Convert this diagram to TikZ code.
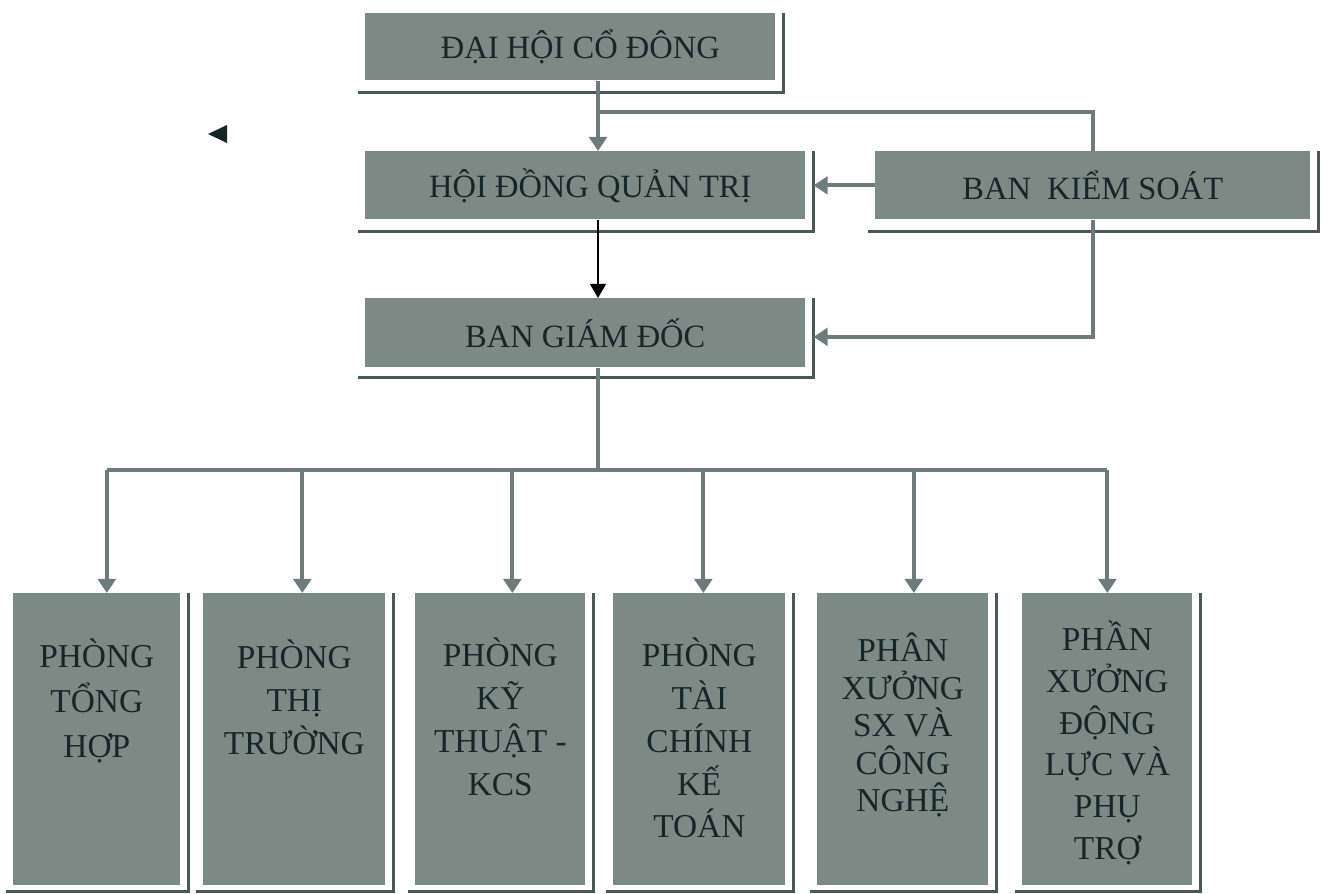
\documentclass[tikz,border=0pt]{standalone}
\usepackage{fontspec}
\setmainfont{Liberation Serif}
\usetikzlibrary{arrows.meta,positioning,calc}

\definecolor{boxgrey}{RGB}{124,138,134}
\definecolor{shadegrey}{RGB}{74,88,86}
\definecolor{linegrey}{RGB}{110,124,121}
\definecolor{inkgreen}{RGB}{22,38,34}

\tikzset{
  headbox/.style={fill=boxgrey,anchor=north west,inner sep=0pt,text=inkgreen,
    font=\fontsize{18.5}{22}\selectfont},
  deptbox/.style={fill=boxgrey,anchor=north west,inner sep=0pt,minimum height=5.84cm},
  depttext/.style={align=center,inner sep=0pt,text=inkgreen,font=\fontsize{19}{24.4}\selectfont},
  shadeline/.style={draw=shadegrey,line width=1.6pt},
  conn/.style={draw=linegrey,line width=2.3pt},
  blackarrow/.style={draw=black,line width=1pt,-{Triangle[length=8pt,width=9pt]}}
}

% drop shadow lines under and right of a box
\newcommand{\boxshade}[2]{%
  \draw[shadeline] ($(#1.south west)+(-7,#2)$) -| ($(#1.north east)+(8,0)$);}

\begin{document}
\begin{tikzpicture}[x=0.02cm,y=-0.02cm,>={Triangle[length=8pt,width=10pt]}]

  \useasboundingbox (0,0) rectangle (1331,893);

  % -- TOP LEVEL -----------------------------------------------------
  \node[headbox,minimum width=8.2cm,minimum height=1.34cm] (dh) at (365,13) {\hspace{0.4cm}ĐẠI HỘI CỔ ĐÔNG};
  \node[headbox,minimum width=8.8cm,minimum height=1.36cm] (hd) at (365,151) {\hspace{0.2cm}HỘI ĐỒNG QUẢN TRỊ};
  \node[headbox,minimum width=8.7cm,minimum height=1.36cm] (bks) at (875,151) {BAN\ \ KIỂM SOÁT};
  \node[headbox,minimum width=8.8cm,minimum height=1.38cm] (bgd) at (365,298) {BAN GIÁM ĐỐC};

  \boxshade{dh}{12}
  \boxshade{hd}{12}
  \boxshade{bks}{12}
  \boxshade{bgd}{10}

  % stray mark on the left
  \fill[inkgreen] (208,134) -- (227,125) -- (227,143) -- cycle;

  % -- DEPARTMENTS ---------------------------------------------------
  \node[deptbox,minimum width=3.34cm] (p1) at (13,593) {};
  \node[deptbox,minimum width=3.64cm] (p2) at (203,593) {};
  \node[deptbox,minimum width=3.40cm] (p3) at (415,593) {};
  \node[deptbox,minimum width=3.44cm] (p4) at (613,593) {};
  \node[deptbox,minimum width=3.42cm] (p5) at (817,593) {};
  \node[deptbox,minimum width=3.40cm] (p6) at (1022,593) {};

  \boxshade{p1}{6}
  \boxshade{p2}{6}
  \boxshade{p3}{6}
  \boxshade{p4}{6}
  \boxshade{p5}{6}
  \boxshade{p6}{6}

  \node[depttext,font=\fontsize{19}{25.5}\selectfont] (t1) at ($(p1.north)+(0,108)$) {PHÒNG\\TỔNG\\HỢP};
  \node[depttext] (t2) at ($(p2.north)+(0,104)$) {PHÒNG\\THỊ\\TRƯỜNG};
  \node[depttext] (t3) at ($(p3.north)+(0,124)$) {PHÒNG\\KỸ\\THUẬT -\\KCS};
  \node[depttext] (t4) at ($(p4.north)+(0,145)$) {PHÒNG\\TÀI\\CHÍNH\\KẾ\\TOÁN};
  \node[depttext,font=\fontsize{19}{21.3}\selectfont] (t5) at ($(p5.north)+(0,132)$) {PHÂN\\XƯỞNG\\SX VÀ\\CÔNG\\NGHỆ};
  \node[depttext,font=\fontsize{19}{23.8}\selectfont] (t6) at ($(p6.north)+(0,150)$) {PHẦN\\XƯỞNG\\ĐỘNG\\LỰC VÀ\\PHỤ\\TRỢ};

  % -- CONNECTORS ----------------------------------------------------
  \coordinate (spine) at (598,0);    % main vertical line
  \coordinate (branch) at (598,112); % split to the control board
  \coordinate (bus) at (598,470);    % department bus

  \draw[conn,->] (dh.south -| spine) -- (hd.north -| spine);
  \draw[conn] (branch) -| (bks.north);
  \draw[conn,->] (bks.west) -- ($(hd.east)+(8,0)$);
  \draw[blackarrow] (hd.south -| spine) -- (bgd.north -| spine);
  \draw[conn,->] (bks.south) |- ($(bgd.east)+(8,4)$);

  \coordinate (a1) at ([xshift=0.2cm]p1.north);
  \coordinate (a2) at ([xshift=0.16cm]p2.north);
  \coordinate (a3) at ([xshift=0.24cm]p3.north);
  \coordinate (a4) at ([xshift=0.08cm]p4.north);
  \coordinate (a5) at ([xshift=0.22cm]p5.north);
  \coordinate (a6) at (p6.north);

  \draw[conn] (bgd.south -| spine) -- (bus);
  \draw[conn] (a1 |- bus) -- (a6 |- bus);
  \draw[conn,->] (a1 |- bus) -- (a1);
  \draw[conn,->] (a2 |- bus) -- (a2);
  \draw[conn,->] (a3 |- bus) -- (a3);
  \draw[conn,->] (a4 |- bus) -- (a4);
  \draw[conn,->] (a5 |- bus) -- (a5);
  \draw[conn,->] (a6 |- bus) -- (a6);

\end{tikzpicture}
\end{document}
